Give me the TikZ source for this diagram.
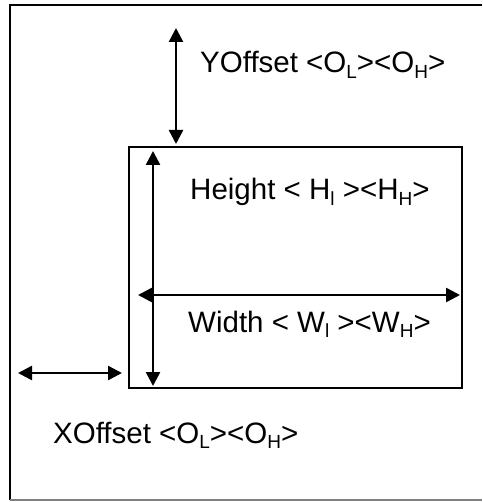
\documentclass[tikz,border=0pt]{standalone}
\usepackage{fontspec}
\setmainfont{Liberation Sans}
\usetikzlibrary{arrows.meta,positioning}

\newcommand{\lo}[1]{\raisebox{-0.2em}{\fontsize{19}{19}\selectfont #1}}

\begin{document}
\begin{tikzpicture}[x=1pt, y=-1pt,
    every node/.style={font=\fontsize{29.5}{32}\selectfont, inner sep=0pt},
    dim/.style={line width=2.5pt, {Triangle[length=14pt,width=14pt]}-{Triangle[length=14pt,width=14pt]}}]

    % 0. Batas gambar
    \useasboundingbox (0,0) rectangle (482,502);

    % 1. Bingkai luar
    \draw[line width=2pt] (482,5) -- (10,5) -- (10,500);
    \draw[line width=1.5pt, gray] (10,500) -- (482,500);

    % 2. Jendela dalam
    \node[draw, line width=2pt, minimum width=333pt, minimum height=241pt, anchor=north west] (win) at (128,146) {};

    % 3. Ujung-ujung panah
    \coordinate (ytop) at (176,28);
    \coordinate (ybot) at (176,144);
    \coordinate (htop) at (153,151);
    \coordinate (hbot) at (153,386);
    \coordinate (wleft) at (138,295);
    \coordinate (wright) at (460,295);
    \coordinate (xleft) at (18,373);
    \coordinate (xright) at (122,373);

    % 4. Panah ukuran
    \draw[dim] (ytop) -- (ybot);
    \draw[dim] (htop) -- (hbot);
    \draw[dim] (wleft) -- (wright);
    \draw[dim] (xleft) -- (xright);

    % 5. Label
    \node[anchor=base west] (ylabel) at (200,73) {YOffset <O\lo{L}><O\lo{H}>};
    \node[anchor=base west] (hlabel) at (190,200) {Height < H\lo{l} ><H\lo{H}>};
    \node[anchor=base west] (wlabel) at (188,332) {Width < W\lo{l} ><W\lo{H}>};
    \node[anchor=base west] (xlabel) at (53,443) {XOffset <O\lo{L}><O\lo{H}>};

\end{tikzpicture}
\end{document}
